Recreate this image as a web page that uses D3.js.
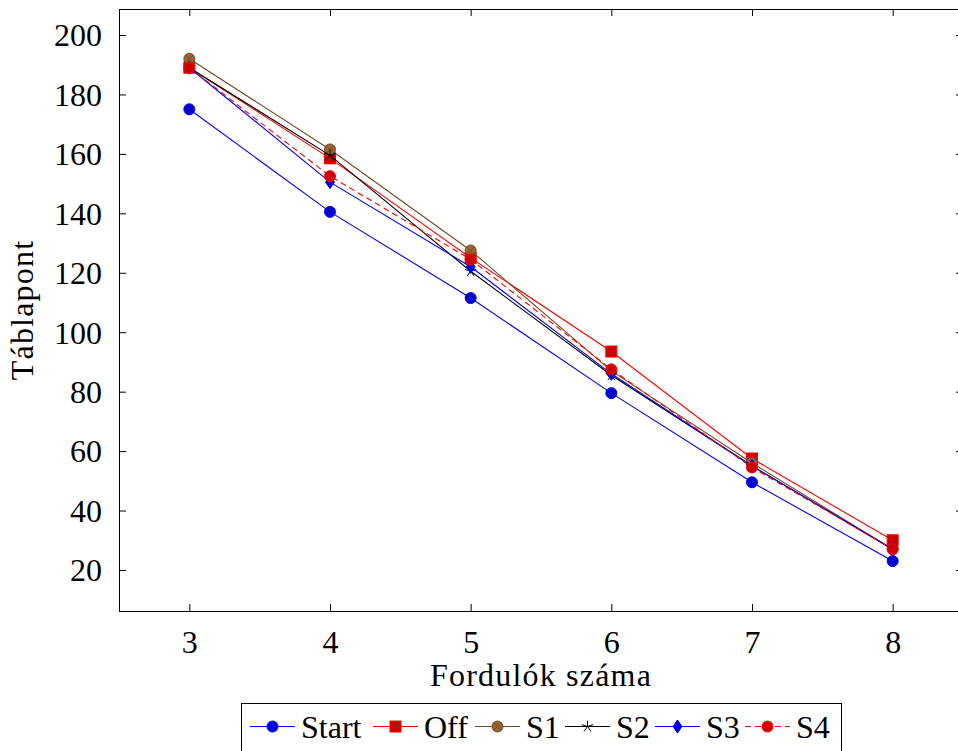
<!DOCTYPE html>
<html>
<head>
<meta charset="utf-8">
<script src="https://cdn.jsdelivr.net/npm/d3@7/dist/d3.min.js"></script>
<style>
html,body{margin:0;padding:0;background:#fff;}
svg{display:block;}
text{font-family:"Liberation Serif","DejaVu Serif",serif;fill:#000;}
</style>
</head>
<body>
<svg id="chart" width="958" height="751"></svg>
<script>
const rounds = [3, 4, 5, 6, 7, 8];
const yTicks = [20, 40, 60, 80, 100, 120, 140, 160, 180, 200];
const seriesNames = ["Start", "Off", "S1", "S2", "S3", "S4"];
const startVals = [175, 140.5, 111.5, 79.5, 49.5, 23];
const offVals   = [189, 158.5, 125, 93.5, 57.5, 30];
const s1Vals    = [192, 161.5, 127.5, 87, 56, 27];
const s2Vals    = [189, 159.5, 120.5, 85.5, 55, 27];
const s3Vals    = [189, 150.5, 122, 86, 55, 27];
const s4Vals    = [189, 152.5, 124.5, 87.5, 54.5, 27];
const xLabel = "Fordulók száma";
const yLabel = "Táblapont";

const styles = [
  {line:"#0000ff", fill:"#0000cc", mark:"circle", dash:null},
  {line:"#ff0000", fill:"#cc0000", mark:"square", dash:null},
  {line:"#734d26", fill:"#996633", mark:"otimes", dash:null},
  {line:"#000000", fill:"#000000", mark:"star", dash:null},
  {line:"#0000ff", fill:"#0000cc", mark:"diamond", dash:null},
  {line:"#ff0000", fill:"#cc0000", mark:"circle", dash:"6,4"}
];
const allVals = [startVals, offVals, s1Vals, s2Vals, s3Vals, s4Vals];

const svg = d3.select("#chart");
const L = 119, R = 963, T = 9, B = 611;
const x = d3.scaleLinear().domain([2.5, 8.5]).range([L, R]);
const y = d3.scaleLinear().domain([6.2, 208.75]).range([B, T]);
const FS = 32;

// frame
svg.append("rect").attr("x", L + 0.5).attr("y", T + 0.5).attr("width", R - L).attr("height", B - T)
  .attr("fill", "none").attr("stroke", "#000").attr("stroke-width", 1);

const tickLen = 7;
// y ticks (inside, both sides)
const yAxisL = d3.axisLeft(y).tickValues(yTicks).tickSizeInner(-tickLen).tickSizeOuter(0).tickPadding(10 + tickLen);
const gy = svg.append("g").attr("transform", `translate(${L},0)`).call(yAxisL);
gy.select(".domain").remove();
gy.selectAll("text").style("font-size", FS + "px").attr("dy", "0.34em").attr("font-family", null);
const yAxisR = d3.axisRight(y).tickValues(yTicks).tickSizeInner(-tickLen).tickSizeOuter(0).tickFormat("");
const gyr = svg.append("g").attr("transform", `translate(${R},0)`).call(yAxisR);
gyr.select(".domain").remove();

// x ticks
const xAxisB = d3.axisBottom(x).tickValues(rounds).tickFormat(d3.format("d"))
  .tickSizeInner(-tickLen).tickSizeOuter(0).tickPadding(12 + tickLen);
const gx = svg.append("g").attr("transform", `translate(0,${B})`).call(xAxisB);
gx.select(".domain").remove();
gx.selectAll("text").style("font-size", FS + "px").attr("dy", "0.71em").attr("font-family", null);
const xAxisT = d3.axisTop(x).tickValues(rounds).tickSizeInner(-tickLen).tickSizeOuter(0).tickFormat("");
const gxt = svg.append("g").attr("transform", `translate(0,${T})`).call(xAxisT);
gxt.select(".domain").remove();
svg.selectAll(".tick line").attr("stroke", "#000").attr("stroke-width", 1);
svg.selectAll(".tick text").attr("fill", "#000");

// labels
svg.append("text").attr("x", 541).attr("y", 686).attr("text-anchor", "middle")
  .style("font-size", FS + "px").style("letter-spacing", "1.2px").text(xLabel);
svg.append("text").attr("transform", `translate(33,${(T + B) / 2}) rotate(-90)`).attr("text-anchor", "middle")
  .style("font-size", FS + "px").style("letter-spacing", "1.2px").text(yLabel);

function drawMark(g, type, cx, cy, st) {
  const r = 6;
  if (type === "circle") {
    g.append("circle").attr("cx", cx).attr("cy", cy).attr("r", r - 0.5)
      .attr("fill", st.fill).attr("stroke", st.line).attr("stroke-width", 1);
  } else if (type === "square") {
    g.append("rect").attr("x", cx - r + 0.5).attr("y", cy - r + 0.5).attr("width", 2 * r - 1).attr("height", 2 * r - 1)
      .attr("fill", st.fill).attr("stroke", st.line).attr("stroke-width", 1);
  } else if (type === "otimes") {
    g.append("circle").attr("cx", cx).attr("cy", cy).attr("r", r - 0.5)
      .attr("fill", st.fill).attr("stroke", st.line).attr("stroke-width", 1);
    const d = (r - 0.5) * Math.SQRT1_2;
    g.append("path").attr("d", `M${cx - d},${cy - d}L${cx + d},${cy + d}M${cx - d},${cy + d}L${cx + d},${cy - d}`)
      .attr("stroke", st.line).attr("stroke-width", 1).attr("fill", "none");
  } else if (type === "star") {
    let p = "";
    for (let i = 0; i < 5; i++) {
      const a = -Math.PI / 2 + i * 2 * Math.PI / 5;
      p += `M${cx},${cy}L${cx + r * Math.cos(a)},${cy + r * Math.sin(a)}`;
    }
    g.append("path").attr("d", p).attr("stroke", st.line).attr("stroke-width", 1).attr("fill", "none");
  } else if (type === "diamond") {
    const w = 4.5, h = 6.5;
    g.append("path").attr("d", `M${cx},${cy - h}L${cx + w},${cy}L${cx},${cy + h}L${cx - w},${cy}Z`)
      .attr("fill", st.fill).attr("stroke", st.line).attr("stroke-width", 1);
  }
}

const plotG = svg.append("g");
const line = d3.line().x((d, i) => x(rounds[i])).y(d => y(d));
allVals.forEach((vals, si) => {
  const st = styles[si];
  const g = plotG.append("g");
  g.append("path").datum(vals).attr("d", line).attr("fill", "none")
    .attr("stroke", st.line).attr("stroke-width", 1.1)
    .attr("stroke-dasharray", st.dash);
  vals.forEach((v, i) => drawMark(g, st.mark, x(rounds[i]), y(v), st));
});

// legend
const legendX = 241, legendY = 703;
const lg = svg.append("g");
lg.append("rect").attr("x", legendX + 0.5).attr("y", legendY + 0.5).attr("width", 600).attr("height", 80)
  .attr("fill", "#fff").attr("stroke", "#000").attr("stroke-width", 1);
const legendLineStarts = [250, 373, 475, 565, 655, 745];
const legendCy = 726.5;
seriesNames.forEach((name, si) => {
  const st = styles[si];
  const x0 = legendLineStarts[si];
  lg.append("line").attr("x1", x0).attr("x2", x0 + 45).attr("y1", legendCy).attr("y2", legendCy)
    .attr("stroke", st.line).attr("stroke-width", 1.1).attr("stroke-dasharray", st.dash);
  drawMark(lg, st.mark, x0 + 22.5, legendCy, st);
  lg.append("text").attr("x", x0 + 51).attr("y", legendCy + 11).style("font-size", FS + "px").text(name);
});
</script>
</body>
</html>
